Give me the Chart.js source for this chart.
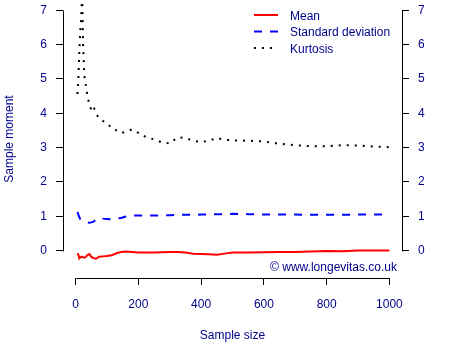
<!DOCTYPE html>
<html>
<head>
<meta charset="utf-8">
<script src="https://cdn.jsdelivr.net/npm/chart.js@4/dist/chart.umd.min.js"></script>
<style>
  html, body { margin: 0; padding: 0; background: #ffffff; }
  #wrap { width: 450px; height: 350px; }
</style>
</head>
<body>
<div id="wrap"><canvas id="c" width="450" height="350"></canvas></div>
<script>
// ---- Data ----
const sampleSizes = [6, 9, 12, 15, 18, 21, 24, 28, 33, 38, 44, 50, 57, 65, 75, 88, 100, 115, 130, 145,
  160, 180, 200, 225, 250, 275, 300, 325, 350, 375, 400, 425, 450, 475, 500, 550, 600, 650, 700, 750,
  800, 850, 900, 950, 1000];
const meanValues = [-0.08, -0.12, -0.23, -0.20, -0.19, -0.18, -0.20, -0.21, -0.18, -0.13, -0.10, -0.18,
  -0.22, -0.24, -0.18, -0.17, -0.16, -0.14, -0.08, -0.04, -0.03, -0.04, -0.06, -0.06, -0.06, -0.05,
  -0.04, -0.04, -0.06, -0.09, -0.10, -0.11, -0.12, -0.09, -0.06, -0.06, -0.05, -0.04, -0.04, -0.03,
  -0.01, -0.02, 0.00, 0.00, 0.00];
const sdValues = [1.12, 1.05, 0.97, 0.92, 0.90, 0.88, 0.86, 0.85, 0.84, 0.82, 0.81, 0.82, 0.84, 0.90,
  0.95, 0.93, 0.92, 0.91, 0.93, 0.95, 0.99, 1.02, 1.02, 1.02, 1.02, 1.02, 1.03, 1.04, 1.04, 1.04,
  1.05, 1.05, 1.06, 1.06, 1.07, 1.06, 1.05, 1.05, 1.05, 1.04, 1.04, 1.04, 1.05, 1.05, 1.05];
const kurtosisValues = [4.56, 5.0, 5.8, 6.4, 6.8, 7.5, 6.0, 5.1, 4.8, 4.5, 4.25, 4.1, 4.2, 4.0, 3.85,
  3.77, 3.72, 3.56, 3.5, 3.42, 3.46, 3.53, 3.43, 3.3, 3.24, 3.15, 3.12, 3.3, 3.28, 3.2, 3.16, 3.2,
  3.28, 3.23, 3.21, 3.2, 3.18, 3.11, 3.07, 3.04, 3.04, 3.07, 3.06, 3.03, 3.01];
const seriesNames = ["Mean", "Standard deviation", "Kurtosis"];
const xTicks = [0, 200, 400, 600, 800, 1000];
const yTicks = [0, 1, 2, 3, 4, 5, 6, 7];
const xTitle = "Sample size";
const yTitle = "Sample moment";
const credit = "\u00A9 www.longevitas.co.uk";

// ---- Styling ----
const FONT = "'Liberation Sans', Arial, sans-serif";
const TXT = "#00008B";
const toPts = vals => vals.map((v, i) => ({ x: sampleSizes[i], y: v }));

function setTicks(list) {
  return function (scale) { scale.ticks = list.map(v => ({ value: v })); };
}
function noPad(s) { s.paddingTop = 0; s.paddingBottom = 0; s.paddingLeft = 0; s.paddingRight = 0; }

const axisLines = {
  id: 'axisLines',
  afterDraw(chart) {
    const ctx = chart.ctx, a = chart.chartArea;
    const sx = chart.scales.x, sy = chart.scales.y;
    ctx.save();
    ctx.strokeStyle = '#000';
    ctx.lineWidth = 1;
    ctx.beginPath();
    const xb = Math.round(a.bottom) + 0.5;
    ctx.moveTo(Math.round(sx.getPixelForValue(xTicks[0])) + 0.5, xb);
    ctx.lineTo(Math.round(sx.getPixelForValue(xTicks[xTicks.length - 1])) + 0.5, xb);
    const yl = Math.round(a.left) + 0.5, yr = Math.round(a.right) + 0.5;
    const y0 = Math.round(sy.getPixelForValue(yTicks[0])) + 0.5;
    const y1 = Math.round(sy.getPixelForValue(yTicks[yTicks.length - 1])) + 0.5;
    ctx.moveTo(yl, y0); ctx.lineTo(yl, y1);
    ctx.moveTo(yr, y0); ctx.lineTo(yr, y1);
    ctx.stroke();

    // legend
    ctx.font = "12px " + FONT;
    ctx.textBaseline = 'middle';
    ctx.textAlign = 'left';
    const lx0 = 254, lx1 = 278, tx = 290, rows = [16, 32.5, 49];
    chart.data.datasets.forEach((ds, i) => {
      const y = rows[i];
      ctx.save();
      ctx.strokeStyle = ds.borderColor;
      ctx.lineWidth = ds.borderWidth;
      ctx.setLineDash(ds.borderDash || []);
      ctx.beginPath();
      ctx.moveTo(lx0, y - 1); ctx.lineTo(lx1, y - 1);
      ctx.stroke();
      ctx.restore();
      ctx.fillStyle = TXT;
      ctx.fillText(ds.label, tx, y + 0.5);
    });

    // credit
    ctx.textAlign = 'right';
    ctx.fillStyle = TXT;
    ctx.fillText(credit, 397, 267.5);
    ctx.restore();
  }
};

const gridCfg = { display: true, drawOnChartArea: false, drawTicks: true, tickLength: 7, color: '#000', lineWidth: 1 };
const tickFont = { family: FONT, size: 12 };

new Chart(document.getElementById('c'), {
  type: 'line',
  data: {
    datasets: [
      { label: seriesNames[0], data: toPts(meanValues), borderColor: '#ff0000', borderWidth: 2, borderDash: [], pointRadius: 0, tension: 0, fill: false },
      { label: seriesNames[1], data: toPts(sdValues), borderColor: '#0000ff', borderWidth: 2, borderDash: [8, 8], pointRadius: 0, tension: 0, fill: false },
      { label: seriesNames[2], data: toPts(kurtosisValues), borderColor: '#000000', borderWidth: 2, borderDash: [2, 6], pointRadius: 0, tension: 0, fill: false }
    ]
  },
  options: {
    responsive: false,
    animation: false,
    devicePixelRatio: 1,
    layout: { padding: 0 },
    plugins: { legend: { display: false }, tooltip: { enabled: false }, title: { display: false } },
    scales: {
      x: {
        type: 'linear', position: 'bottom', min: -40, max: 1040,
        afterBuildTicks: setTicks(xTicks),
        afterFit(s) { s.height = 72; noPad(s); },
        grid: gridCfg, border: { display: false },
        ticks: { color: TXT, font: tickFont, padding: 12, autoSkip: false, maxRotation: 0, callback: v => String(v) },
        title: { display: true, text: xTitle, color: TXT, font: tickFont, padding: { top: 0, bottom: 7 } }
      },
      y: {
        type: 'linear', position: 'left', min: -0.8, max: 7.3,
        afterBuildTicks: setTicks(yTicks),
        afterFit(s) { s.width = 63; noPad(s); },
        grid: gridCfg, border: { display: false },
        ticks: { color: TXT, font: tickFont, padding: 9, autoSkip: false, callback: v => String(v) },
        title: { display: true, text: yTitle, color: TXT, font: tickFont, padding: { top: 2, bottom: 0 } }
      },
      y2: {
        type: 'linear', position: 'right', min: -0.8, max: 7.3,
        afterBuildTicks: setTicks(yTicks),
        afterFit(s) { s.width = 48; noPad(s); },
        grid: gridCfg, border: { display: false },
        ticks: { color: TXT, font: tickFont, padding: 9, autoSkip: false, callback: v => String(v) }
      }
    }
  },
  plugins: [axisLines]
});
</script>
</body>
</html>
